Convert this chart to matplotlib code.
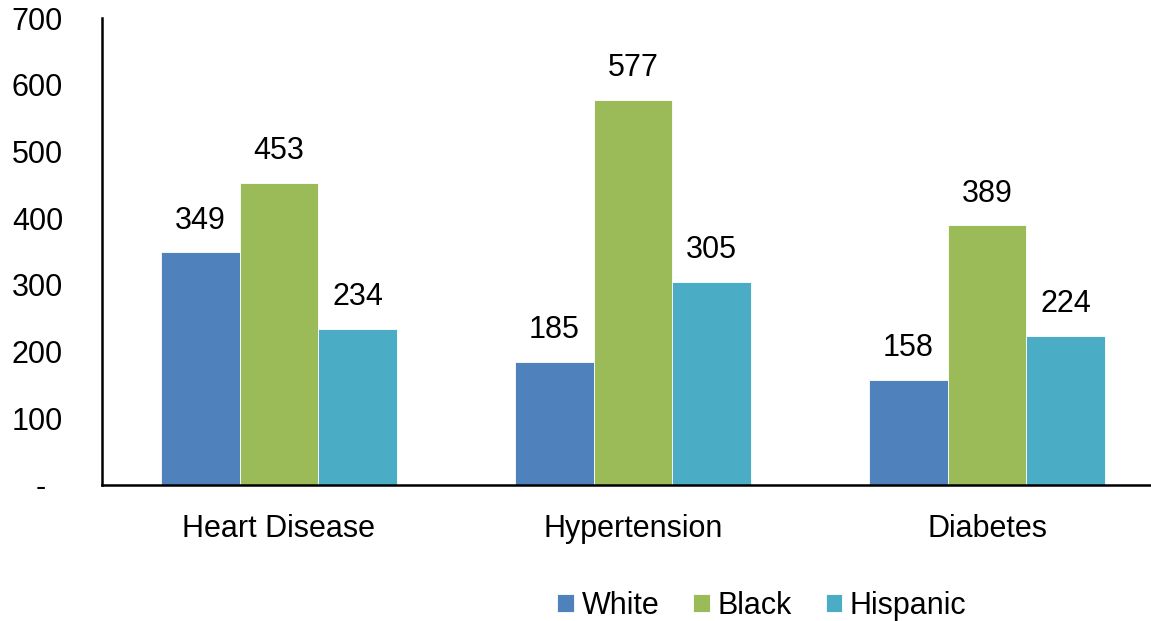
import matplotlib.pyplot as plt
import numpy as np

plt.rcParams['font.family'] = ['Liberation Sans', 'DejaVu Sans']

categories = ['Heart Disease', 'Hypertension', 'Diabetes']
groups = ['White', 'Black', 'Hispanic']
values = {
    'White': [349, 185, 158],
    'Black': [453, 577, 389],
    'Hispanic': [234, 305, 224],
}
colors = {'White': '#4F81BD', 'Black': '#9BBB59', 'Hispanic': '#4BACC6'}
yticks = [0, 100, 200, 300, 400, 500, 600, 700]
# zero shown as an accounting-style dash
yticklabels = ['-  ', '100', '200', '300', '400', '500', '600', '700']

fs = 22

fig = plt.figure(figsize=(11.51, 6.21), dpi=100)
ax = fig.add_axes([102 / 1151, 1 - 485 / 621, 1062 / 1151, 467 / 621])

x = np.arange(len(categories))
width = 2 / 9
for i, g in enumerate(groups):
    bars = ax.bar(x + (i - 1) * width, values[g], width, color=colors[g],
                  label=g, edgecolor='white', linewidth=0.6)
    ax.bar_label(bars, labels=[str(v) for v in values[g]], padding=12,
                 fontsize=fs)

ax.set_xlim(-0.5, 2.5)
ax.set_ylim(0, 700)
ax.set_yticks(yticks)
ax.set_yticklabels(yticklabels)
ax.set_xticks(x)
ax.set_xticklabels(categories)
ax.tick_params(axis='y', length=0, pad=28, labelsize=fs)
ax.tick_params(axis='x', length=0, pad=21, labelsize=fs)
for side in ['top', 'right']:
    ax.spines[side].set_visible(False)
for side in ['left', 'bottom']:
    ax.spines[side].set_linewidth(1.8)
    ax.spines[side].set_color('black')

fig.legend(loc='center', bbox_to_anchor=(762 / 1151, 1 - 606 / 621), ncol=3,
           frameon=False, fontsize=fs, handlelength=0.55, handleheight=0.55,
           handletextpad=0.25, columnspacing=1.1)

fig.savefig('out.png', dpi=100)
